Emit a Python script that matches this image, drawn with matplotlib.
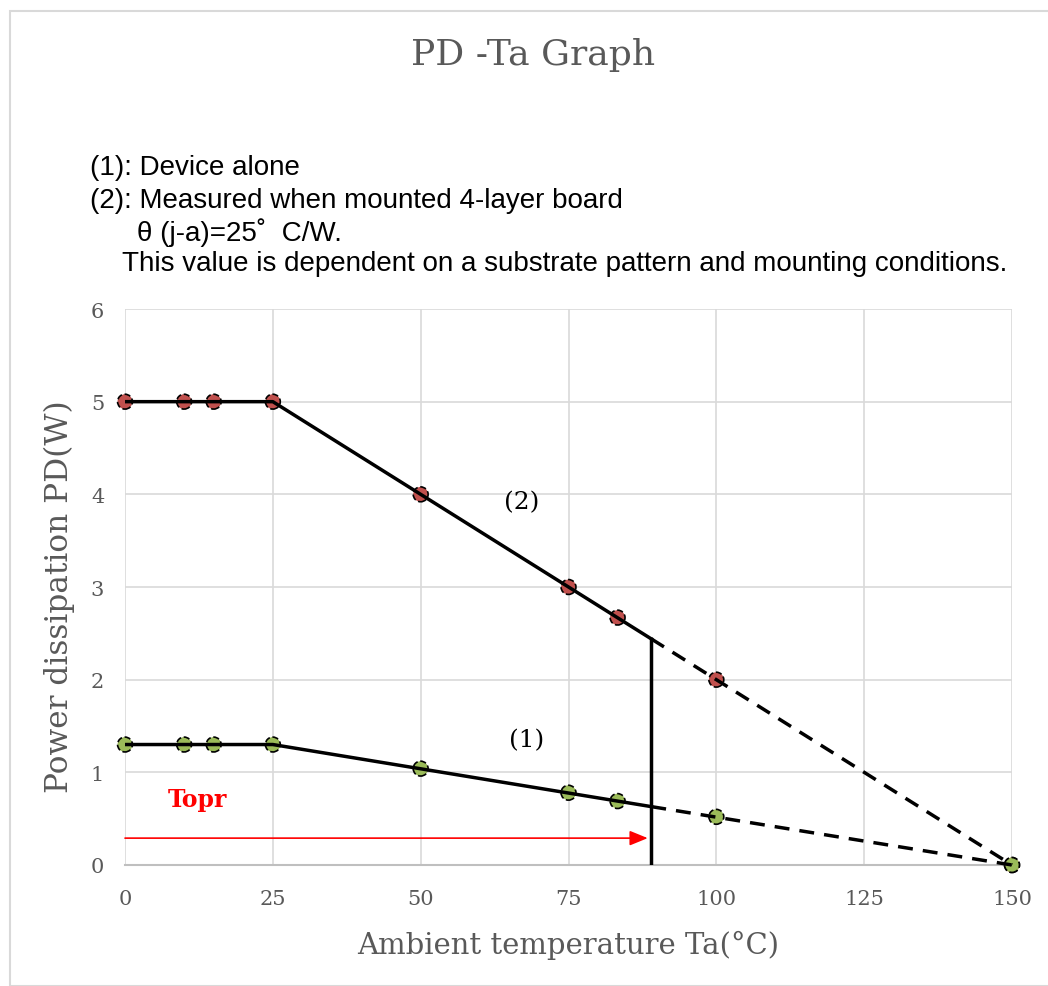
import matplotlib.pyplot as plt
from matplotlib.patches import Rectangle

# measured points
temps = [0, 10, 15, 25, 50, 75, 83.3, 100, 150]
pd_board = [5.0, 5.0, 5.0, 5.0, 4.0, 3.0, 2.67, 2.0, 0.0]
pd_alone = [1.3, 1.3, 1.3, 1.3, 1.04, 0.78, 0.69, 0.52, 0.0]

# derating lines (solid up to Topr, dashed beyond)
line_t = [0, 25, 89, 150]
line_board = [5.0, 5.0, 2.44, 0.0]
line_alone = [1.3, 1.3, 0.63, 0.0]

topr = 89
topr_arrow_y = 0.29

x_ticks = [0, 25, 50, 75, 100, 125, 150]
y_ticks = [0, 1, 2, 3, 4, 5, 6]

RED = "#C0504D"
GREEN = "#9BBB59"
GRID = "#D9D9D9"
TEXT = "#595959"

notes = [
    ("(1): Device alone", 90, 168),
    ("(2): Measured when mounted 4-layer board", 90, 201),
    ("θ (j-a)=25˚  C/W.", 137, 233),
    ("This value is dependent on a substrate pattern and mounting conditions.", 122, 264),
]

W, H = 1048, 987
fig = plt.figure(figsize=(W / 100, H / 100), dpi=100)
fig.patches.append(Rectangle((10 / W, 0), 1.2, 1 - 12 / H, transform=fig.transFigure,
                             fill=False, edgecolor=GRID, linewidth=1.5))

ax = fig.add_axes([125 / W, 1 - 866 / H, (1012 - 125) / W, (866 - 310) / H])
ax.set_xlim(0, 150)
ax.set_ylim(0, 6)
ax.set_xticks(x_ticks)
ax.set_yticks(y_ticks)
ax.grid(True, color=GRID, linewidth=1.2)
ax.set_axisbelow(True)
for side in ("top", "right", "left"):
    ax.spines[side].set_visible(False)
ax.spines["bottom"].set_color("#BFBFBF")
ax.spines["bottom"].set_linewidth(1.5)
ax.tick_params(length=0, labelcolor=TEXT, labelsize=15)
ax.tick_params(axis="x", pad=17)
ax.tick_params(axis="y", pad=15)
for lab in ax.get_xticklabels() + ax.get_yticklabels():
    lab.set_family("DejaVu Serif")

ax.scatter(temps, pd_board, s=115, color=RED, edgecolors="black", linewidths=1.2,
           linestyle="--", zorder=3, clip_on=False)
ax.scatter(temps, pd_alone, s=115, color=GREEN, edgecolors="black", linewidths=1.2,
           linestyle="--", zorder=3, clip_on=False)

for ys in (line_board, line_alone):
    ax.plot(line_t[:3], ys[:3], color="black", linewidth=2.5, zorder=4)
    ax.plot(line_t[2:], ys[2:], color="black", linewidth=2.5, dashes=(4.3, 2.9), zorder=4,
            clip_on=False)
ax.plot([topr, topr], [0, line_board[2]], color="black", linewidth=2.5, zorder=4)

ax.annotate("", xy=(topr - 0.6, topr_arrow_y), xytext=(0, topr_arrow_y),
            arrowprops=dict(arrowstyle="-|>,head_length=1.1,head_width=0.45",
                            color="red", linewidth=1.2, shrinkA=0, shrinkB=0), zorder=5)
ax.text(12.2, 0.71, "Topr", color="red", fontsize=17, fontweight="bold",
        family="DejaVu Serif", ha="center", va="center")
ax.text(67, 3.92, "(2)", fontsize=18, family="DejaVu Serif", ha="center", va="center")
ax.text(68, 1.35, "(1)", fontsize=18, family="DejaVu Serif", ha="center", va="center")

ax.set_xlabel("Ambient temperature Ta(°C)", fontsize=21, family="DejaVu Serif",
              color=TEXT, labelpad=16)
ax.set_ylabel("Power dissipation PD(W)", fontsize=22.5, family="DejaVu Serif",
              color=TEXT)
ax.yaxis.set_label_coords(-0.056, 0.485)

fig.text(533 / W, 1 - 55 / H, "PD -Ta Graph", fontsize=26, family="DejaVu Serif",
         color=TEXT, ha="center", va="center")
for txt, px, py in notes:
    fig.text(px / W, 1 - py / H, txt, fontsize=20, family="Liberation Sans",
             color="black", ha="left", va="center")

fig.savefig("out.png", dpi=100, facecolor="white")
